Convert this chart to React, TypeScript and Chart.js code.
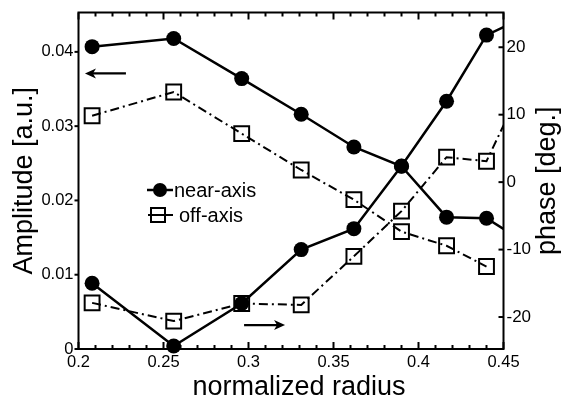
import React, { useEffect, useRef } from 'react';
import Chart from 'chart.js/auto';

// ---- data ----
const RADIUS = [0.208, 0.256, 0.296, 0.331, 0.362, 0.390, 0.4165, 0.440];
const RADIUS_EXT = [0.208, 0.256, 0.296, 0.331, 0.362, 0.390, 0.4165, 0.440, 0.46];
const AMP_NEAR = [0.0407, 0.0418, 0.0364, 0.0316, 0.0272, 0.0246, 0.01775, 0.0176, 0.0147];
const AMP_OFF = [0.0314, 0.0346, 0.0290, 0.0241, 0.0201, 0.0158, 0.0139, 0.0111];
const PHASE_NEAR = [-15.0, -24.3, -18.0, -10.0, -6.9, 2.4, 12.0, 21.8, 24.2];
const PHASE_OFF = [-17.9, -20.6, -18.0, -18.2, -11.0, -4.3, 3.7, 3.1, 13.7];

const X_MIN = 0.2;
const X_MAX = 0.45;
const AMP_MIN = 0;
const AMP_MAX = 0.0453;
const PHASE_MIN = -24.74;
const PHASE_MAX = 25.15;

const X_TICKS = [0.2, 0.25, 0.3, 0.35, 0.4, 0.45];
const X_MINOR = [0.21, 0.22, 0.23, 0.24, 0.26, 0.27, 0.28, 0.29, 0.31, 0.32, 0.33, 0.34, 0.36, 0.37, 0.38, 0.39, 0.41, 0.42, 0.43, 0.44];
const AMP_TICKS = [0, 0.01, 0.02, 0.03, 0.04];
const PHASE_TICKS = [-20, -10, 0, 10, 20];

const X_TITLE = 'normalized radius';
const AMP_TITLE = 'Amplitude [a.u.]';
const PHASE_TITLE = 'phase [deg.]';
const LEGEND_NEAR = 'near-axis';
const LEGEND_OFF = 'off-axis';

// arrows (in data units)
const ARROW_AMP = { from: 0.2279, to: 0.2038, y: 0.0371 };
const ARROW_PHASE = { from: 0.2974, to: 0.3215, y: -21.2 };

const FONT = '"Liberation Sans", Arial, Helvetica, sans-serif';
const DASH = [9, 4, 2, 4];

const fmt = (v: number) => String(Math.round(v * 1000) / 1000);

const overlay = {
  id: 'overlay',
  afterDraw(chart: any) {
    const { ctx, chartArea: a, scales } = chart;
    const x = scales.x;
    const yl = scales.yAmp;
    const yr = scales.yPhase;
    ctx.save();
    ctx.strokeStyle = '#000';
    ctx.fillStyle = '#000';
    // frame
    ctx.lineWidth = 2;
    ctx.strokeRect(a.left, a.top, a.right - a.left, a.bottom - a.top);
    const seg = (x1: number, y1: number, x2: number, y2: number) => {
      ctx.beginPath();
      ctx.moveTo(x1, y1);
      ctx.lineTo(x2, y2);
      ctx.stroke();
    };
    // x ticks (inward, top and bottom)
    ctx.lineWidth = 2;
    X_TICKS.forEach((v) => {
      const px = x.getPixelForValue(v);
      seg(px, a.bottom, px, a.bottom - 7);
      seg(px, a.top, px, a.top + 7);
    });
    X_MINOR.forEach((v) => {
      const px = x.getPixelForValue(v);
      seg(px, a.bottom, px, a.bottom - 4);
      seg(px, a.top, px, a.top + 4);
    });
    // left ticks (outward)
    AMP_TICKS.forEach((v) => {
      const py = yl.getPixelForValue(v);
      seg(a.left - 4, py, a.left, py);
    });
    // right ticks (inward)
    PHASE_TICKS.forEach((v) => {
      const py = yr.getPixelForValue(v);
      seg(a.right - 5, py, a.right, py);
    });

    // arrows
    const arrow = (x1: number, x2: number, y: number) => {
      ctx.lineWidth = 2.2;
      const dir = Math.sign(x2 - x1);
      seg(x1, y, x2 - dir * 4, y);
      ctx.beginPath();
      ctx.moveTo(x2, y);
      ctx.lineTo(x2 - dir * 11, y - 5);
      ctx.lineTo(x2 - dir * 8, y);
      ctx.lineTo(x2 - dir * 11, y + 5);
      ctx.closePath();
      ctx.fill();
    };
    arrow(x.getPixelForValue(ARROW_AMP.from), x.getPixelForValue(ARROW_AMP.to), yl.getPixelForValue(ARROW_AMP.y));
    arrow(x.getPixelForValue(ARROW_PHASE.from), x.getPixelForValue(ARROW_PHASE.to), yr.getPixelForValue(ARROW_PHASE.y));

    // legend
    ctx.lineWidth = 2.5;
    seg(147, 190, 173, 190);
    ctx.beginPath();
    ctx.arc(160, 190, 7, 0, Math.PI * 2);
    ctx.fill();
    ctx.lineWidth = 2;
    seg(148, 215, 173, 215);
    ctx.strokeRect(151, 208, 14, 14);
    ctx.font = `20px ${FONT}`;
    ctx.textAlign = 'left';
    ctx.textBaseline = 'alphabetic';
    ctx.fillText(LEGEND_NEAR, 174, 197);
    ctx.fillText(LEGEND_OFF, 179, 222);

    // titles
    ctx.font = `27px ${FONT}`;
    ctx.textAlign = 'center';
    ctx.fillText(X_TITLE, 299, 395);
    const midY = (a.top + a.bottom) / 2;
    ctx.save();
    ctx.translate(32, midY);
    ctx.rotate(-Math.PI / 2);
    ctx.fillText(AMP_TITLE, 0, 0);
    ctx.restore();
    ctx.save();
    ctx.translate(555, midY);
    ctx.rotate(-Math.PI / 2);
    ctx.fillText(PHASE_TITLE, 0, 0);
    ctx.restore();
    ctx.restore();
  },
};

const noPad = (s: any) => {
  s.paddingTop = 0;
  s.paddingBottom = 0;
  s.paddingLeft = 0;
  s.paddingRight = 0;
};

export default function App() {
  const ref = useRef<HTMLCanvasElement>(null);
  useEffect(() => {
    const clip = { left: 12, top: 12, right: 0, bottom: 12 };
    const markerR = (r: number) => (c: any) => (c.raw && c.raw.x > X_MAX ? 0 : r);
    const chart = new Chart(ref.current as HTMLCanvasElement, {
      type: 'line',
      data: {
        datasets: [
          {
            label: LEGEND_NEAR + ' amplitude',
            data: RADIUS_EXT.map((r, i) => ({ x: r, y: AMP_NEAR[i] })),
            yAxisID: 'yAmp',
            borderColor: '#000',
            borderWidth: 2.5,
            pointStyle: 'circle',
            pointRadius: markerR(7.5),
            pointBackgroundColor: '#000',
            pointBorderColor: '#000',
            pointBorderWidth: 0,
            tension: 0,
            clip,
          },
          {
            label: LEGEND_NEAR + ' phase',
            data: RADIUS_EXT.map((r, i) => ({ x: r, y: PHASE_NEAR[i] })),
            yAxisID: 'yPhase',
            borderColor: '#000',
            borderWidth: 2.5,
            pointStyle: 'circle',
            pointRadius: markerR(7.5),
            pointBackgroundColor: '#000',
            pointBorderColor: '#000',
            pointBorderWidth: 0,
            tension: 0,
            clip,
          },
          {
            label: LEGEND_OFF + ' amplitude',
            data: RADIUS.map((r, i) => ({ x: r, y: AMP_OFF[i] })),
            yAxisID: 'yAmp',
            borderColor: '#000',
            borderWidth: 2,
            borderDash: DASH,
            pointStyle: 'rect',
            pointRadius: markerR(10.5),
            pointBackgroundColor: 'rgba(0,0,0,0)',
            pointBorderColor: '#000',
            pointBorderWidth: 2,
            tension: 0,
            clip,
          },
          {
            label: LEGEND_OFF + ' phase',
            data: RADIUS_EXT.map((r, i) => ({ x: r, y: PHASE_OFF[i] })),
            yAxisID: 'yPhase',
            borderColor: '#000',
            borderWidth: 2,
            borderDash: DASH,
            pointStyle: 'rect',
            pointRadius: markerR(10.5),
            pointBackgroundColor: 'rgba(0,0,0,0)',
            pointBorderColor: '#000',
            pointBorderWidth: 2,
            tension: 0,
            clip,
          },
        ],
      },
      options: {
        responsive: false,
        animation: false,
        events: [],
        layout: { padding: { top: 7, left: 0, right: 0, bottom: 0 } },
        plugins: { legend: { display: false }, tooltip: { enabled: false } },
        scales: {
          x: {
            type: 'linear',
            position: 'bottom',
            min: X_MIN,
            max: X_MAX,
            afterBuildTicks: (s: any) => {
              s.ticks = X_TICKS.map((v) => ({ value: v }));
            },
            afterFit: (s: any) => {
              s.height = 53;
              noPad(s);
            },
            ticks: {
              callback: (v: any) => fmt(Number(v)),
              font: { family: FONT, size: 16.5 },
              color: '#000',
              padding: 4,
              maxRotation: 0,
              autoSkip: false,
            },
            grid: { display: false, drawTicks: false },
            border: { display: false },
          },
          yAmp: {
            type: 'linear',
            position: 'left',
            min: AMP_MIN,
            max: AMP_MAX,
            afterBuildTicks: (s: any) => {
              s.ticks = AMP_TICKS.map((v) => ({ value: v }));
            },
            afterFit: (s: any) => {
              s.width = 78.5;
              noPad(s);
            },
            ticks: {
              callback: (v: any) => fmt(Number(v)),
              font: { family: FONT, size: 16.5 },
              color: '#000',
              padding: 5,
              autoSkip: false,
            },
            grid: { display: false, drawTicks: false },
            border: { display: false },
          },
          yPhase: {
            type: 'linear',
            position: 'right',
            min: PHASE_MIN,
            max: PHASE_MAX,
            afterBuildTicks: (s: any) => {
              s.ticks = PHASE_TICKS.map((v) => ({ value: v }));
            },
            afterFit: (s: any) => {
              s.width = 58.5;
              noPad(s);
            },
            ticks: {
              callback: (v: any) => fmt(Number(v)),
              font: { family: FONT, size: 17 },
              color: '#000',
              padding: 3,
              autoSkip: false,
            },
            grid: { display: false, drawTicks: false },
            border: { display: false },
          },
        },
      },
      plugins: [overlay],
    });
    return () => chart.destroy();
  }, []);
  return (
    <div style={{ position: 'fixed', left: 0, top: 0, width: 562, height: 402, background: '#fff' }}>
      <canvas ref={ref} width={562} height={402} style={{ display: 'block' }} />
    </div>
  );
}
